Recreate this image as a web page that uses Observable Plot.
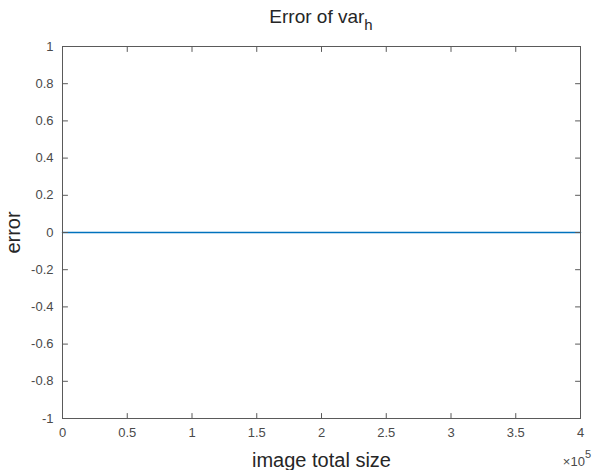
<!DOCTYPE html>
<html><head><meta charset="utf-8">
<script src="https://cdn.jsdelivr.net/npm/d3@7"></script>
<script src="https://cdn.jsdelivr.net/npm/@observablehq/plot@0.6"></script>
<style>body{margin:0;background:#fff} svg{display:block}</style>
</head><body><div id="chart"></div>
<script>
const imageSizes = [0, 50000, 100000, 150000, 200000, 250000, 300000, 350000, 400000];
const errors = [0, 0, 0, 0, 0, 0, 0, 0, 0];
const xTicks = [0, 50000, 100000, 150000, 200000, 250000, 300000, 350000, 400000];
const xTickLabels = ["0", "0.5", "1", "1.5", "2", "2.5", "3", "3.5", "4"];
const yTicks = [-1, -0.8, -0.6, -0.4, -0.2, 0, 0.2, 0.4, 0.6, 0.8, 1];
const yTickLabels = ["-1", "-0.8", "-0.6", "-0.4", "-0.2", "0", "0.2", "0.4", "0.6", "0.8", "1"];
const titleMain = "Error of var";
const titleSub = "h";
const xLabel = "image total size";
const yLabel = "error";
const xExponent = "5";

const data = imageSizes.map((x, i) => ({x, y: errors[i]}));
const font = "'Liberation Sans', Arial, Helvetica, sans-serif";
const axisColor = "#5a5a5a";
const textColor = "#4a4a4a";
const xFmt = d => xTickLabels[xTicks.indexOf(d)];
const yFmt = d => yTickLabels[yTicks.indexOf(d)];
const tickShape = {draw(context, l) { context.moveTo(0, 0); context.lineTo(0, -l); }};
const tickOpts = {length: 5, anchor: "start", shape: tickShape, stroke: axisColor, strokeWidth: 1};

const plot = Plot.plot({
  width: 596, height: 470,
  marginLeft: 62, marginRight: 16, marginTop: 46, marginBottom: 52,
  style: {fontFamily: font, background: "#fff", color: textColor, overflow: "visible"},
  x: {domain: [0, 400000]},
  y: {domain: [-1, 1]},
  marks: [
    Plot.line(data, {x: "x", y: "y", stroke: "#0072BD", strokeWidth: 1.5}),
    Plot.frame({stroke: axisColor, strokeWidth: 1}),
    Plot.axisX({anchor: "bottom", ticks: xTicks, tickFormat: xFmt, tickSize: 0, tickPadding: 9, fontSize: 13, label: null, fill: textColor}),
    Plot.axisY({anchor: "left", ticks: yTicks, tickFormat: yFmt, tickSize: 0, tickPadding: 9, fontSize: 13, label: null, fill: textColor}),
    Plot.vector(xTicks, {x: d => d, frameAnchor: "bottom", rotate: 0, ...tickOpts}),
    Plot.vector(xTicks, {x: d => d, frameAnchor: "top", rotate: 180, ...tickOpts}),
    Plot.vector(yTicks, {y: d => d, frameAnchor: "left", rotate: 90, ...tickOpts}),
    Plot.vector(yTicks, {y: d => d, frameAnchor: "right", rotate: -90, ...tickOpts}),
    Plot.text([xLabel], {text: d => d, frameAnchor: "bottom", lineAnchor: "bottom", dy: 48, fontSize: 20, fill: "#262626"}),
    Plot.text([yLabel], {text: d => d, frameAnchor: "left", textAnchor: "middle", lineAnchor: "bottom", dx: -43, rotate: -90, fontSize: 20, fill: "#262626"})
  ]
});
document.getElementById("chart").append(plot);

const svg = d3.select(plot);
const t = svg.append("text")
  .attr("x", 321).attr("y", 23)
  .attr("text-anchor", "middle")
  .attr("font-family", font)
  .attr("font-size", 19)
  .attr("fill", "#262626");
t.append("tspan").text(titleMain);
t.append("tspan").attr("dy", 7).attr("font-size", 15).text(titleSub);

const e = svg.append("text")
  .attr("x", 591).attr("y", 466)
  .attr("text-anchor", "end")
  .attr("font-family", font)
  .attr("font-size", 13)
  .attr("fill", textColor);
e.append("tspan").text("\u00d710");
e.append("tspan").attr("dy", -8).attr("font-size", 11).text(xExponent);
</script>
</body></html>
